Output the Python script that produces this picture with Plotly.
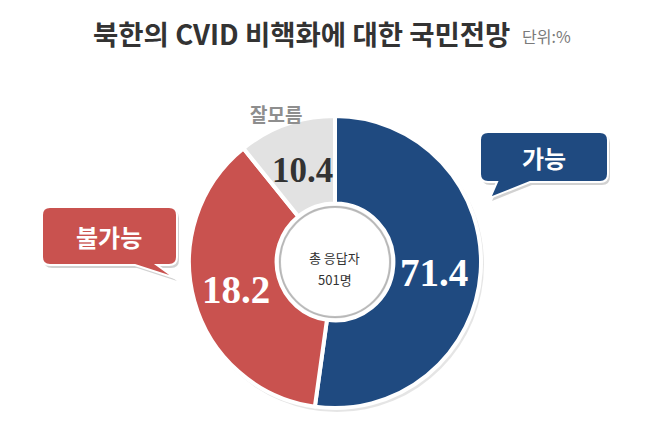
import plotly.graph_objects as go

W, H = 650, 439

labels = ['가능', '불가능', '잘모름']
values = [71.4, 18.2, 10.4]
# arc sizes as they are drawn in the source picture (not proportional to the labels)
arc_share = [52.2, 37.0, 10.8]
colors = ['#1f4a80', '#c9524f', '#e2e2e2']
title = '북한의 CVID 비핵화에 대한 국민전망'
unit = '단위:%'
center_lines = ['총 응답자', '501명']


def px(x):
    return x / W


def py(y):
    return 1 - y / H


def bubble(x0, y0, x1, y1, r, bx0, bx1, tx, ty, dx=0, dy=0):
    pts = [
        ('M', x0 + r, y0), ('L', x1 - r, y0), ('Q', x1, y0, x1, y0 + r),
        ('L', x1, y1 - r), ('Q', x1, y1, x1 - r, y1), ('L', bx1, y1),
        ('L', tx, ty), ('L', bx0, y1), ('L', x0 + r, y1),
        ('Q', x0, y1, x0, y1 - r), ('L', x0, y0 + r), ('Q', x0, y0, x0 + r, y0),
    ]
    out = ''
    for p in pts:
        cmd, coords = p[0], p[1:]
        s = []
        for i in range(0, len(coords), 2):
            s.append(f'{px(coords[i] + dx):.5f},{py(coords[i + 1] + dy):.5f}')
        out += cmd + ' ' + ' '.join(s) + ' '
    return out + 'Z'


# donut geometry (pixels)
cx, cy, R = 335, 262, 146

fig = go.Figure(go.Pie(
    labels=labels,
    values=arc_share,
    customdata=values,
    marker=dict(colors=colors, line=dict(color='white', width=4)),
    hole=0.40,
    sort=False,
    direction='clockwise',
    rotation=0,
    textinfo='none',
    hovertemplate='%{label}: %{customdata}%<extra></extra>',
    showlegend=False,
    domain=dict(x=[px(cx - R), px(cx + R)], y=[py(cy + R), py(cy - R)]),
))

shapes = []
# soft shadow behind donut
shapes.append(dict(type='circle', xref='paper', yref='paper', layer='below',
                   x0=px(cx - R + 1), x1=px(cx + R + 3), y0=py(cy + R + 4), y1=py(cy - R + 1),
                   fillcolor='rgba(0,0,0,0.10)', line=dict(width=0)))
# inner ring of the hole
ri = 55
shapes.append(dict(type='circle', xref='paper', yref='paper', layer='above',
                   x0=px(cx - ri), x1=px(cx + ri), y0=py(cy + ri), y1=py(cy - ri),
                   fillcolor='white', line=dict(color='rgba(140,140,140,0.55)', width=2)))

# callout bubbles
bubbles = [
    (dict(x0=480, y0=132, x1=608, y1=182, r=8, bx0=497, bx1=530, tx=490, ty=198), colors[0]),
    (dict(x0=42, y0=207, x1=177, y1=265, r=8, bx0=135, bx1=157, tx=175, ty=278), colors[1]),
]
for b, c in bubbles:
    shapes.append(dict(type='path', xref='paper', yref='paper', path=bubble(**b, dx=2, dy=3),
                       fillcolor='rgba(0,0,0,0.18)', line=dict(width=0)))
    shapes.append(dict(type='path', xref='paper', yref='paper', path=bubble(**b),
                       fillcolor=c, line=dict(color='white', width=2)))

ann = []
kfont = 'Noto Sans CJK KR'
ann.append(dict(x=px(91), y=py(33), xanchor='left', yanchor='middle', text=f'<b>{title}</b>',
                font=dict(family=kfont, size=27.5, color='#333333')))
ann.append(dict(x=px(520), y=py(36), xanchor='left', yanchor='middle', text=unit,
                font=dict(family=kfont, size=16, color='#7a7a7a')))

# value labels
num_pos = [(434, 272, 39, 'white'), (236, 289, 39, 'white'), (302, 170, 35, '#333333')]
for v, (x, y, s, c) in zip(values, num_pos):
    ann.append(dict(x=px(x), y=py(y), xanchor='center', yanchor='middle', text=f'<b>{v}</b>',
                    font=dict(family='Liberation Serif', size=s, color=c)))

# category labels
ann.append(dict(x=px(544), y=py(157), text=f'<b>{labels[0]}</b>', xanchor='center', yanchor='middle',
                font=dict(family=kfont, size=24, color='white')))
ann.append(dict(x=px(109), y=py(236), text=f'<b>{labels[1]}</b>', xanchor='center', yanchor='middle',
                font=dict(family=kfont, size=24, color='white')))
ann.append(dict(x=px(276), y=py(113), text=f'<b>{labels[2]}</b>', xanchor='center', yanchor='middle',
                font=dict(family=kfont, size=19, color='#8e8e8e')))

# centre text
ann.append(dict(x=px(cx), y=py(257), text=center_lines[0], xanchor='center', yanchor='middle',
                font=dict(family=kfont, size=13, color='#333333')))
ann.append(dict(x=px(cx), y=py(279), text=center_lines[1], xanchor='center', yanchor='middle',
                font=dict(family=kfont, size=13, color='#333333')))

for a in ann:
    a.update(xref='paper', yref='paper', showarrow=False)

fig.update_layout(
    width=W, height=H,
    margin=dict(l=0, r=0, t=0, b=0),
    paper_bgcolor='white',
    plot_bgcolor='white',
    shapes=shapes,
    annotations=ann,
)

# the page body has a default 8px margin; drop it so the figure sits at the window origin
fig.write_html('out.html', config={'displayModeBar': False},
               post_script="document.body.style.margin='0';")
